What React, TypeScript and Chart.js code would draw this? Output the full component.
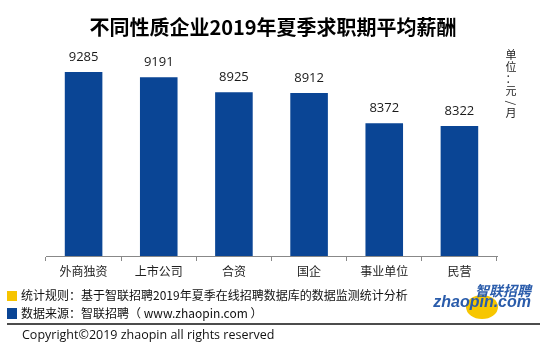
import React, { useEffect, useRef } from "react";
import { Chart, registerables } from "chart.js";

Chart.register(...registerables);

const categories = ["外商独资", "上市公司", "合资", "国企", "事业单位", "民营"];
const salaries = [9285, 9191, 8925, 8912, 8372, 8322];
const titleText = "不同性质企业2019年夏季求职期平均薪酬";
const unitChars = ["单", "位", "：", "元", "/", "月"];
const ruleText = "统计规则：基于智联招聘2019年夏季在线招聘数据库的数据监测统计分析";
const sourceText = "数据来源：智联招聘（ www.zhaopin.com ）";
const copyrightText = "Copyright©2019 zhaopin all rights reserved";

const BAR_BLUE = "#0a4595";
const YELLOW = "#f6c400";
const CJK = '"Noto Sans CJK SC", "Noto Sans", sans-serif';

const decorPlugin = {
  id: "decor",
  afterDatasetsDraw(chart: any) {
    const ctx = chart.ctx;
    const meta = chart.getDatasetMeta(0);
    ctx.save();
    ctx.fillStyle = "#1a1a1a";
    ctx.font = '13px "Open Sans", "Noto Sans", sans-serif';
    ctx.textAlign = "center";
    ctx.textBaseline = "middle";
    meta.data.forEach((bar: any, i: number) => {
      ctx.fillText(String(salaries[i]), bar.x, bar.y - 15);
    });
    ctx.restore();
  },
  afterDraw(chart: any) {
    const ctx = chart.ctx;
    ctx.save();
    // title
    ctx.fillStyle = "#000";
    ctx.font = "bold 20px " + CJK;
    ctx.textAlign = "center";
    ctx.textBaseline = "middle";
    ctx.fillText(titleText, 273, 27);

    // unit label (vertical)
    ctx.font = "11px " + CJK;
    ctx.fillStyle = "#222";
    let y = 55;
    unitChars.forEach((c) => {
      if (c === "/") {
        ctx.save();
        ctx.translate(511, y);
        ctx.rotate(Math.PI / 2);
        ctx.fillText(c, 0, 0);
        ctx.restore();
        y += 10;
      } else {
        ctx.fillText(c, 511, y);
        y += 12;
      }
    });

    // footer squares & text
    ctx.fillStyle = YELLOW;
    ctx.fillRect(7, 291, 10, 10);
    ctx.fillStyle = BAR_BLUE;
    ctx.fillRect(7, 308, 10, 11);
    ctx.fillStyle = "#111";
    ctx.textAlign = "left";
    ctx.font = "12px " + CJK;
    ctx.fillText(ruleText, 21, 295);
    ctx.fillText(sourceText, 21, 313);

    // separator line
    ctx.strokeStyle = "#111";
    ctx.lineWidth = 1.5;
    ctx.beginPath();
    ctx.moveTo(7, 324);
    ctx.lineTo(540, 324);
    ctx.stroke();

    ctx.font = '12.5px "Open Sans", "Noto Sans", sans-serif';
    ctx.fillStyle = "#111";
    ctx.fillText(copyrightText, 22, 335);

    // logo
    ctx.fillStyle = "#f7c600";
    ctx.beginPath();
    ctx.ellipse(482, 307, 16, 12, 0, 0, Math.PI * 2);
    ctx.fill();
    ctx.fillStyle = "#2a5cab";
    ctx.textAlign = "right";
    ctx.font = "italic bold 14px " + CJK;
    ctx.fillText("智联招聘", 531, 291);
    ctx.font = 'italic bold 16px "Liberation Sans", Arial, sans-serif';
    ctx.fillText("zhaopin.com", 531, 303);
    ctx.restore();
  },
};

export default function App() {
  const ref = useRef<HTMLCanvasElement | null>(null);
  useEffect(() => {
    if (!ref.current) return;
    const chart = new Chart(ref.current, {
      type: "bar",
      data: {
        labels: categories,
        datasets: [
          {
            data: salaries,
            backgroundColor: BAR_BLUE,
            borderWidth: 0,
            categoryPercentage: 1,
            barPercentage: 0.5,
          },
        ],
      },
      options: {
        responsive: false,
        animation: false,
        events: [],
        layout: { padding: { left: 46, right: 53, top: 32, bottom: 70 } },
        plugins: {
          legend: { display: false },
          title: { display: false },
          tooltip: { enabled: false },
        },
        scales: {
          y: { display: false, min: 6000, max: 10000 },
          x: {
            offset: true,
            afterFit: (s: any) => {
              s.height = 30;
            },
            border: { display: true, color: "#888", width: 1 },
            grid: {
              offset: true,
              drawOnChartArea: false,
              drawTicks: true,
              tickLength: 5,
              color: "#888",
            },
            ticks: {
              padding: 3,
              autoSkip: false,
              maxRotation: 0,
              color: "#222",
              font: { family: CJK, size: 12 },
            },
          },
        },
      },
      plugins: [decorPlugin],
    });
    return () => chart.destroy();
  }, []);
  return (
    <div style={{ position: "absolute", left: 0, top: 0, width: 550, height: 356, background: "#fff" }}>
      <canvas ref={ref} width={550} height={356} style={{ display: "block" }} />
    </div>
  );
}
